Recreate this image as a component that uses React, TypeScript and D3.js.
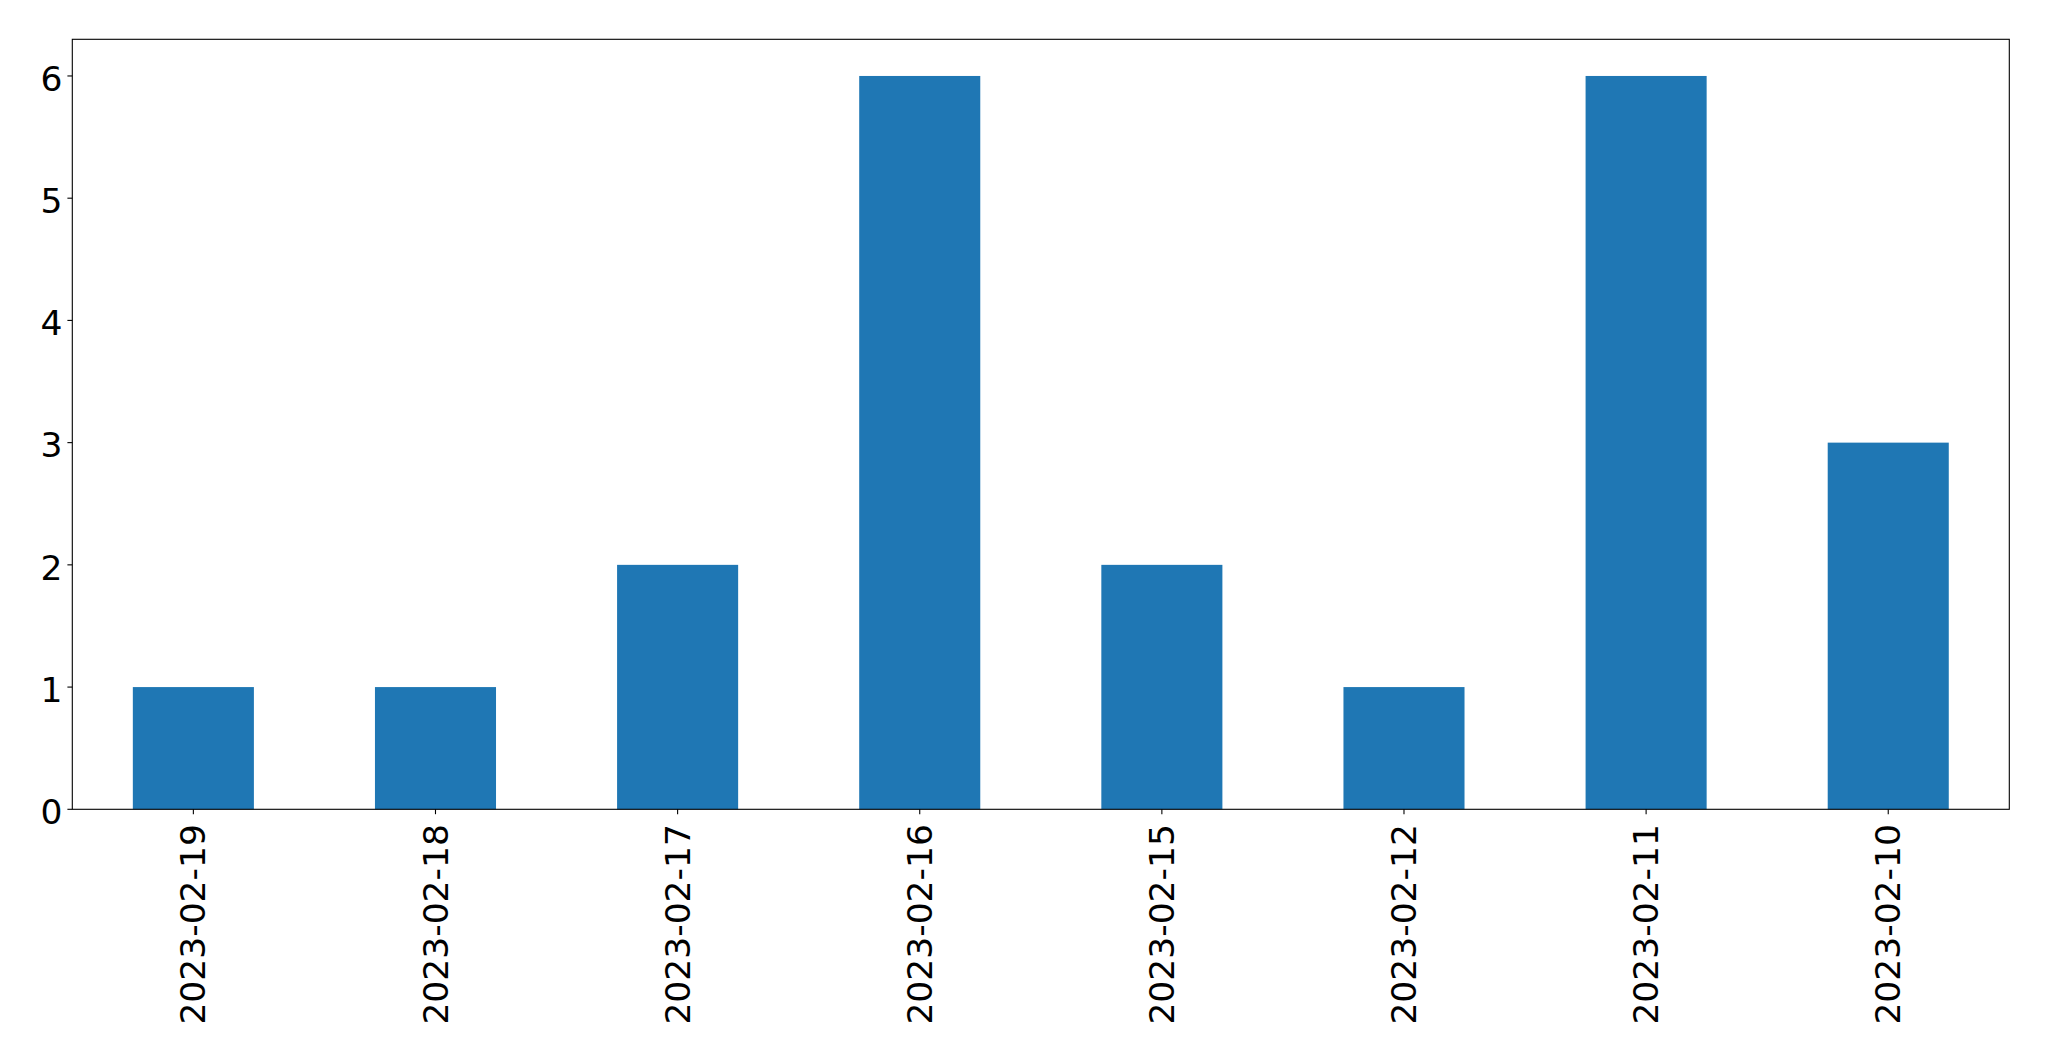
import React from "react";
import * as d3 from "d3";

const categories = ["2023-02-19", "2023-02-18", "2023-02-17", "2023-02-16", "2023-02-15", "2023-02-12", "2023-02-11", "2023-02-10"];
const values = [1, 1, 2, 6, 2, 1, 6, 3];
const yTicks = [0, 1, 2, 3, 4, 5, 6];

const W = 2049;
const H = 1061;
const left = 72.3;
const right = 2009.3;
const top = 39.3;
const bottom = 809.3;
const FS = 34.5;
const TICK = 4.9;
const PAD = 4.9;
const FONT = "DejaVu Sans, sans-serif";

export default function App() {
  const x = d3.scaleLinear().domain([-0.5, categories.length - 0.5]).range([left, right]);
  const ymax = d3.max(values)! * 1.05;
  const y = d3.scaleLinear().domain([0, ymax]).range([bottom, top]);
  const bw = x(0.25) - x(-0.25);

  return (
    <svg width={W} height={H} style={{ position: "absolute", left: 0, top: 0, background: "#fff" }}>
      <rect x={0} y={0} width={W} height={H} fill="#fff" />
      {values.map((v, i) => (
        <rect key={i} x={x(i) - bw / 2} y={y(v)} width={bw} height={y(0) - y(v)} fill="#1f77b4" />
      ))}
      <rect x={left} y={top} width={right - left} height={bottom - top} fill="none" stroke="#000" strokeWidth={1.1} />
      {yTicks.map((t) => (
        <g key={t}>
          <line x1={left - TICK} x2={left} y1={y(t)} y2={y(t)} stroke="#000" strokeWidth={1.1} />
          <text x={left - TICK - PAD} y={y(t)} dy="0.43em" textAnchor="end" fontSize={FS} fontFamily={FONT} fill="#000">
            {t}
          </text>
        </g>
      ))}
      {categories.map((c, i) => (
        <g key={c}>
          <line x1={x(i)} x2={x(i)} y1={bottom} y2={bottom + TICK} stroke="#000" strokeWidth={1.1} />
          <text
            transform={`translate(${x(i)},${bottom + TICK + PAD + 5}) rotate(-90)`}
            dy="0.35em"
            textAnchor="end"
            fontSize={FS}
            fontFamily={FONT}
            fill="#000"
          >
            {c}
          </text>
        </g>
      ))}
    </svg>
  );
}
